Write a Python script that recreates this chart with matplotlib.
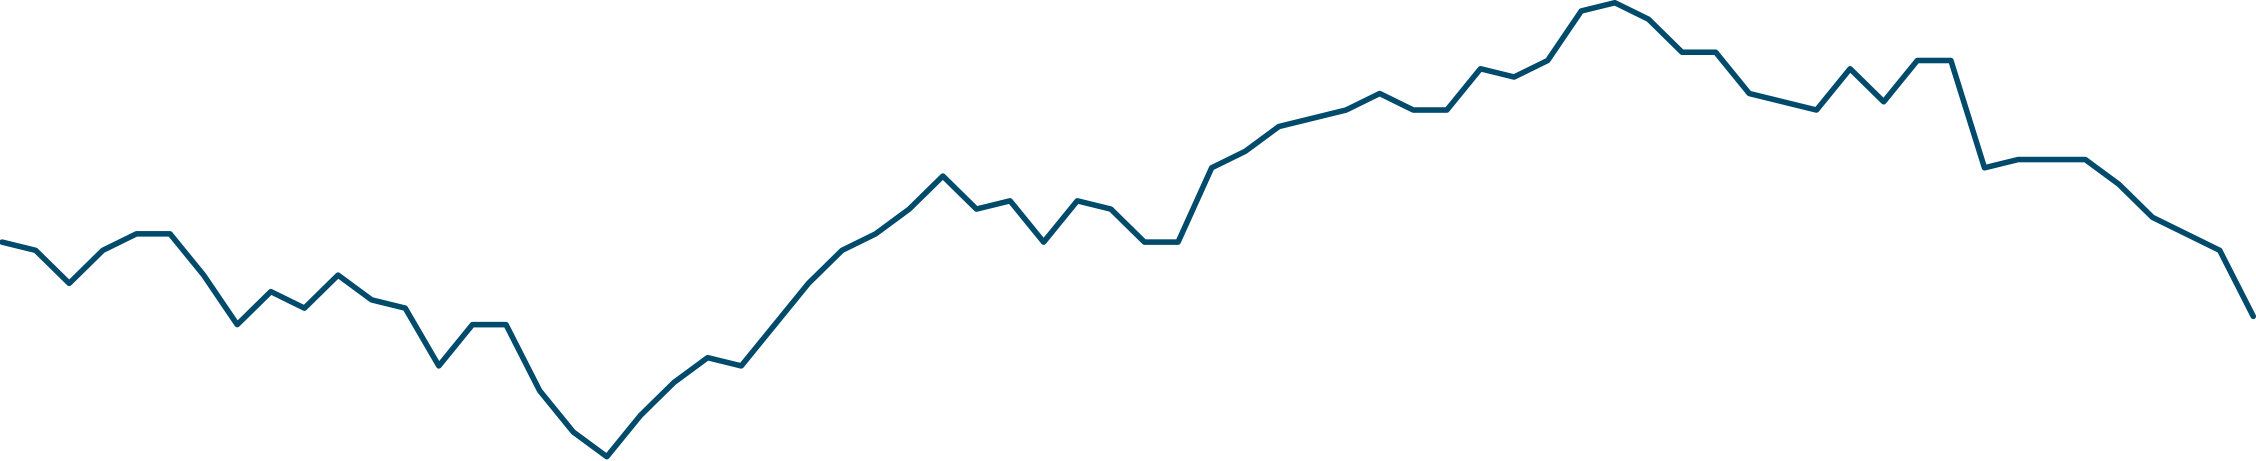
import numpy as np
import matplotlib
matplotlib.use('Agg')
import matplotlib.pyplot as plt

# Valores (escala relativa, 0 = mínimo)
valores = [26, 25, 21, 25, 27, 27, 22, 16, 20, 18, 22, 19, 18, 11, 16, 16,
           8, 3, 0, 5, 9, 12, 11, 16, 21, 25, 27, 30, 34, 30, 31, 26, 31, 30,
           26, 26, 35, 37, 40, 41, 42, 44, 42, 42, 47, 46, 48, 54, 55, 53, 49,
           49, 44, 43, 42, 47, 43, 48, 48, 35, 36, 36, 36, 33, 29, 27, 25, 17]
puntos = np.arange(len(valores))

color_linea = '#004b6b'

fig = plt.figure(figsize=(22.56, 4.61), dpi=100)
ax = fig.add_axes([0, 0, 1, 1])
ax.plot(puntos, valores, color=color_linea, linewidth=4.0,
        solid_joinstyle='round', solid_capstyle='round')

ax.set_xlim(-0.06, len(valores) - 1 + 0.08)
ax.set_ylim(-0.52, 55.33)
ax.axis('off')

fig.savefig('out.png', dpi=100, facecolor='white')
